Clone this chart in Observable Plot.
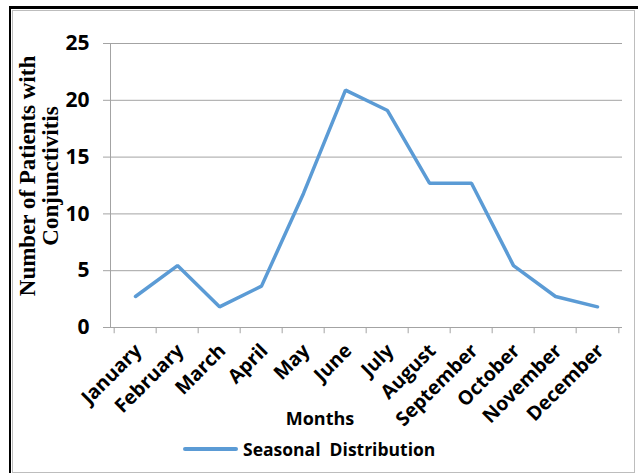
<!DOCTYPE html>
<html>
<head>
<meta charset="utf-8">
<script src="https://cdn.jsdelivr.net/npm/d3@7"></script>
<script src="https://cdn.jsdelivr.net/npm/@observablehq/plot@0.6"></script>
<style>
  html, body { margin: 0; padding: 0; background: #fff; }
  #wrap { position: relative; width: 638px; height: 473px; overflow: hidden; font-family: "Open Sans", sans-serif; }
  #wrap svg { position: absolute; left: 0; top: 0; }
  .frame-outer { position: absolute; left: 9px; top: 6px; width: 640px; height: 480px; border-top: 3px solid #000; border-left: 2px solid #000; box-sizing: border-box; }
  .frame-inner { position: absolute; left: 12px; top: 10px; width: 623px; height: 463px; border: 1px solid #bdbdbd; box-sizing: border-box; }
  .ytitle { position: absolute; left: -91px; top: 153px; width: 260px; height: 46px; transform: rotate(-90deg); text-align: center;
            font-family: "Liberation Serif", serif; font-weight: bold; font-size: 23px; line-height: 23px; color: #000; white-space: nowrap; }
  .xtitle { position: absolute; left: 220px; width: 200px; top: 406px; text-align: center; font-weight: bold; font-size: 18px; color: #000; }
  .legend { position: absolute; left: 183px; top: 437px; display: flex; align-items: center; font-weight: bold; font-size: 17.5px; color: #000; white-space: pre; }
  .legend .sw { width: 55px; height: 4px; background: #5B9BD5; border-radius: 2px; margin-right: 5px; }
</style>
</head>
<body>
<div id="wrap">
  <div class="frame-outer"></div>
  <div class="frame-inner"></div>
</div>
<script>
const months = ["January","February","March","April","May","June","July","August","September","October","November","December"];
const cases = [2.73, 5.45, 1.82, 3.64, 11.8, 20.9, 19.1, 12.7, 12.7, 5.45, 2.73, 1.82];
const yTicks = [0, 5, 10, 15, 20, 25];
const seriesName = "Seasonal  Distribution";
const xTitle = "Months";
const yTitleLines = ["Number of Patients with", "Conjunctivitis"];

const rows = months.map((m, i) => ({month: m, value: cases[i]}));

const W = 638, H = 473, mL = 110, mR = 16, mT = 43, mB = 146;
const step = (W - mL - mR) / months.length;
const grid = "#a3a3a3";

const chart = Plot.plot({
  width: W, height: H,
  marginLeft: mL, marginRight: mR, marginTop: mT, marginBottom: mB,
  style: {fontFamily: "'Open Sans', sans-serif", background: "transparent", overflow: "visible"},
  x: {type: "point", domain: months, padding: 0.5},
  y: {domain: [0, 25]},
  marks: [
    Plot.gridY(yTicks, {stroke: grid, strokeOpacity: 1}),
    Plot.frame({anchor: "left", stroke: grid}),
    Plot.ruleY([0], {stroke: grid}),
    Plot.ruleX(months, {x: d => d, dx: -step / 2, y1: 0, y2: -0.55, stroke: grid}),
    Plot.ruleX(months.slice(-1), {x: d => d, dx: step / 2, y1: 0, y2: -0.55, stroke: grid}),
    Plot.axisY(yTicks, {tickSize: 7, tickPadding: 14, stroke: grid, fill: "#000", fontSize: 21, fontWeight: "bold", label: null}),
    Plot.axisX({tickSize: 0, tickPadding: 20, dx: 3, tickRotate: -45, fill: "#000", fontSize: 19.5, fontWeight: "bold", label: null}),
    Plot.line(rows, {x: "month", y: "value", stroke: "#5B9BD5", strokeWidth: 3.5, strokeLinejoin: "miter"})
  ]
});

const wrap = document.getElementById("wrap");
wrap.appendChild(chart);

const yt = document.createElement("div");
yt.className = "ytitle";
yt.innerHTML = yTitleLines.join("<br>");
wrap.appendChild(yt);

const xt = document.createElement("div");
xt.className = "xtitle";
xt.textContent = xTitle;
wrap.appendChild(xt);

const lg = document.createElement("div");
lg.className = "legend";
lg.innerHTML = '<span class="sw"></span><span></span>';
lg.lastChild.textContent = seriesName;
wrap.appendChild(lg);
</script>
</body>
</html>
